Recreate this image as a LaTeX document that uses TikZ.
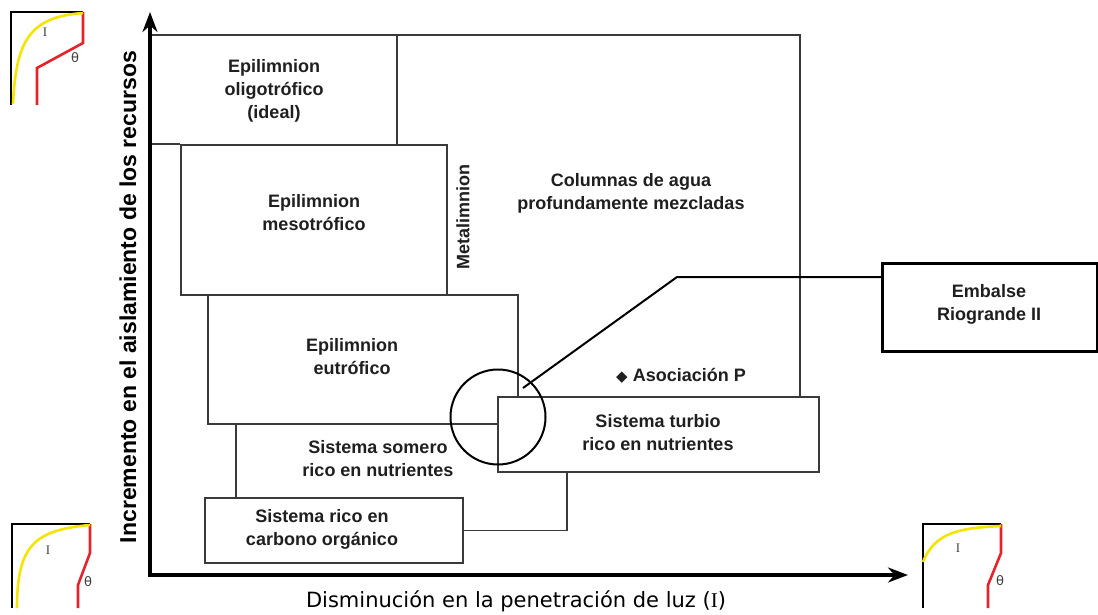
\documentclass[tikz,border=0pt]{standalone}
\usepackage{fontspec}
\setmainfont{Liberation Sans}
\newfontfamily\djv{DejaVu Sans}
\newfontfamily\lserif{Liberation Serif}
\usetikzlibrary{arrows.meta}
\definecolor{ylw}{HTML}{F5E400}
\definecolor{rd}{HTML}{E5232B}
\definecolor{ln}{HTML}{3A3A3A}
\begin{document}
\begin{tikzpicture}[x=1pt,y=-1pt,
  box/.style={draw=ln, line width=1.7pt, fill=white, inner sep=0pt, anchor=north west},
  region/.style={draw=ln, line width=1.7pt},
  lbl/.style={font=\bfseries\fontsize{18}{23}\selectfont, align=center, text=black!88},
  axisline/.style={line width=3.2pt, {Stealth[length=20pt,width=15pt]}-{Stealth[length=20pt,width=15pt]}},
  frame/.style={line width=2.6pt},
  redl/.style={rd, line width=2.6pt},
  ylwl/.style={ylw, line width=2.6pt},
  small/.style={font=\fontsize{13}{15}\selectfont, text=black!75},
  callout/.style={line width=2pt},
]
\useasboundingbox (0,0) rectangle (1098,615);

% upper regions
\draw[region] (150,35) -- (800,35) -- (800,396);
\draw[region] (397,35) -- (397,144);

% boxes
\node[box, minimum width=266pt, minimum height=150pt] (meso) at (180,144) {};
\draw[region] (150,144) -- (meso.north west);
\node[box, minimum width=310pt, minimum height=129pt] (eut) at (207,294) {};
\coordinate (somtop) at (236,423);
\node[box, minimum width=258pt, minimum height=65pt] (carb) at (204,497) {};
\draw[region] (somtop) -- (somtop |- carb.north);
\node[box, minimum width=321pt, minimum height=75pt] (turb) at (497,396) {};
\coordinate (tconn) at (567,471);
\draw[region] (tconn) |- (carb.east);

% circle and callout
\node[draw, circle, line width=2pt, minimum size=95pt, inner sep=0pt] (circ) at (498,417) {};
\node[draw, line width=3.2pt, fill=white, minimum width=215pt, minimum height=88pt, inner sep=0pt, anchor=north west] (emb) at (881,262) {};
\coordinate (cstart) at (523,388);
\coordinate (cbend) at (677,277);
\draw[callout] (cstart) -- (cbend) -- (cbend -| emb.west);

% axes
\coordinate (O) at (150,575);
\coordinate (ytip) at (150,12);
\coordinate (xtip) at (908,575);
\draw[axisline] (ytip) -- (O) -- (xtip);

% labels
\node[lbl] (toligo) at (274,91) {Epilimnion\\oligotrófico\\(ideal)};
\node[lbl] (tmeso) at (314,213) {Epilimnion\\mesotrófico};
\node[lbl, rotate=90] (tmeta) at (463,217) {Metalimnion};
\node[lbl] (tcol) at (631,193) {Columnas de agua\\profundamente mezcladas};
\node[lbl] (teut) at (352,357) {Epilimnion\\eutrófico};
\node[lbl] (tasoc) at (681,376) {{\djv\fontsize{15}{15}\selectfont ◆} Asociación P};
\node[lbl] (tturb) at (658,433) {Sistema turbio\\rico en nutrientes};
\node[lbl] (tsom) at (378,459) {Sistema somero\\rico en nutrientes};
\node[lbl] (tcarb) at (322,529) {Sistema rico en\\carbono orgánico};
\node[lbl] (temb) at (989,304) {Embalse\\Riogrande II};

\node[font=\djv\fontsize{21}{25}\selectfont] (xlab) at (516,601) {Disminución en la penetración de luz ({\lserif I})};
\node[font=\bfseries\fontsize{23}{27}\selectfont, rotate=90] (ylab) at (128,297) {Incremento en el aislamiento de los recursos};

% icon top-left
\draw[frame] (11,105) -- (11,12) -- (83,12);
\draw[redl] (83,12) -- (83,43) -- (37,68) -- (37,105);
\draw[ylwl] (13,104) .. controls (16,40) and (30,17) .. (83,13);
\node[small] (i1) at (45,32) {\lserif I};
\node[small] (t1) at (75,58) {\djv θ};

% icon bottom-left
\draw[frame] (12,608) -- (12,524) -- (90,524);
\draw[redl] (90,524) -- (90,553) -- (78,585) -- (78,608);
\draw[ylwl] (17,608) .. controls (17,545) and (35,530) .. (90,525);
\node[small] (i2) at (48,550) {\lserif I};
\node[small] (t2) at (88,582) {\djv θ};

% icon bottom-right
\draw[frame] (923,608) -- (923,524) -- (1001,524);
\draw[redl] (1001,524) -- (1001,553) -- (988,585) -- (988,608);
\draw[ylwl] (923,562) .. controls (935,532) and (960,528) .. (1001,526);
\node[small] (i3) at (958,548) {\lserif I};
\node[small] (t3) at (1000,581) {\djv θ};
\end{tikzpicture}
\end{document}
